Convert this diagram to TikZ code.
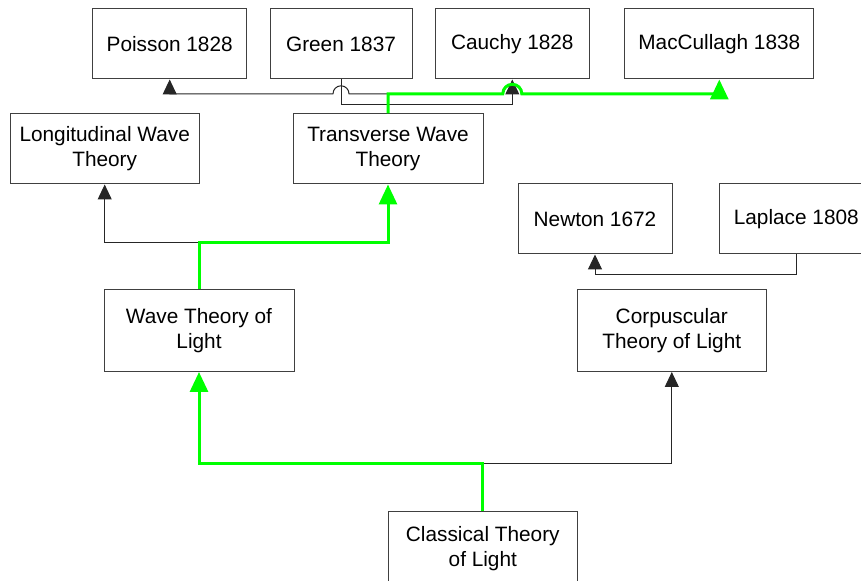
\documentclass[tikz,border=0pt]{standalone}
\usepackage{fontspec}
\setmainfont{Liberation Sans}
\usepackage{tikz}
\usetikzlibrary{arrows.meta,positioning,calc}
\definecolor{pathgreen}{RGB}{0,255,0}
\tikzset{
  box/.style={draw=black!75, line width=1bp, minimum width=154bp,
    minimum height=70bp, align=center, inner sep=0pt},
  tallbox/.style={box, minimum width=189bp, minimum height=82bp},
  link/.style={draw=black!85, line width=1bp, -{Triangle[length=15bp,width=14bp]}},
  mainlink/.style={draw=pathgreen, line width=3bp, -{Triangle[length=20bp,width=18bp]}}
}

\begin{document}
\begin{tikzpicture}[x=1bp, y=1bp, font=\fontsize{20.8bp}{25bp}\selectfont]
\useasboundingbox (0,0) rectangle (861,581);
\node[tallbox, minimum height=74bp] (classical) at (482.8,32.3) {Classical Theory\\of Light};
\node[tallbox, minimum width=190bp] (wave) at (199,250.5) {Wave Theory of\\Light};
\node[tallbox, node distance=472.8bp, right of=wave] (corpus) {Corpuscular\\Theory of Light};
\node[box, minimum width=189bp] (longit) at (104.7,432) {Longitudinal Wave\\Theory};
\node[box, minimum width=190bp, node distance=283.3bp, right of=longit] (trans) {Transverse Wave\\Theory};
\node[box] (newton) at (595,362) {Newton 1672};
\node[box, node distance=201.3bp, right of=newton] (laplace) {Laplace 1808};
\node[box] (poisson) at (169.7,537) {Poisson 1828};
\node[box, minimum width=142bp, node distance=171.3bp, right of=poisson] (green) {Green 1837};
\node[box, node distance=171.3bp, right of=green] (cauchy) {Cauchy 1828};
\node[box, minimum width=189.3bp, node distance=207bp, right of=cauchy] (maccul) {MacCullagh 1838};
% plain links first, highlighted path on top
\draw[link] (classical.north) -- ++(0,47.3) -| (corpus.south);
\draw[link] (wave.north) -- ++(0,46.3) -| (longit.south);
\draw[link] (laplace.south) -- ++(0,-20) -| (newton.south);
\coordinate (tj) at ($(trans.north)+(0,19.7)$);
\draw[link] (green.south) -- ++(0,-25) -| (cauchy.south);
\draw[link] (trans.north) -- (tj) -- ($(green.south |- tj)+(8,0)$)
  arc[start angle=0, end angle=180, radius=8bp] -| (poisson.south);
\draw[mainlink] (classical.north) -- ++(0,47.3) -| (wave.south);
\draw[mainlink] (wave.north) -- ++(0,46.3) -| (trans.south);
\draw[mainlink] (trans.north) -- (tj) -- ($(cauchy.south |- tj)+(-9.5,0)$)
  arc[start angle=180, end angle=0, radius=9.5bp] -| (maccul.south);
\end{tikzpicture}
\end{document}
